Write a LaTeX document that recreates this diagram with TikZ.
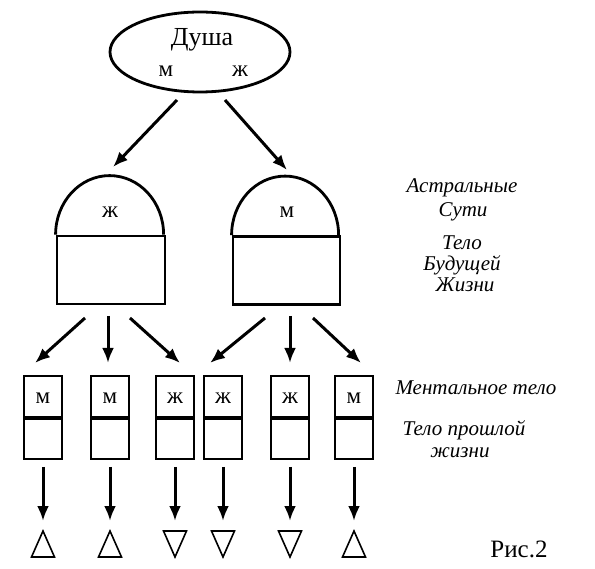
\documentclass[tikz,border=0pt]{standalone}
\usepackage{fontspec}
\setmainfont{Liberation Serif}
\usetikzlibrary{arrows.meta,shapes.geometric}
\begin{document}
\begin{tikzpicture}[x=1pt,y=1pt,
  arr/.style={line width=3pt,-{Latex[length=15pt,width=12pt]}},
  thickline/.style={line width=2.8pt},
  boxpart/.style={draw,line width=1.8pt,minimum width=38pt,inner sep=0pt},
  sm/.style={font=\fontsize{23}{25}\selectfont,anchor=base,inner sep=0pt},
  lbl/.style={font=\fontsize{21}{24}\selectfont\itshape,anchor=base,inner sep=0pt},
  tri/.style={line width=1.6pt}
]
\useasboundingbox (0,0) rectangle (595,-569);
% soul
\node[draw,thickline,ellipse,minimum width=180pt,minimum height=80pt,inner sep=0pt] (soul) at (200,-52) {};
\node[font=\fontsize{26}{28}\selectfont,anchor=base,inner sep=0pt] (dusha) at (202,-46) {Душа};
\node[sm] (sm1) at (166,-77) {м};
\node[sm] (sz1) at (240,-77) {ж};
\coordinate (s1) at (177,-100); \coordinate (e1) at (113,-167);
\coordinate (s2) at (225,-100); \coordinate (e2) at (287,-170);
\draw[arr] (s1) -- (e1);
\draw[arr] (s2) -- (e2);
% domes
\node[draw,thickline,minimum width=108pt,minimum height=68pt,inner sep=0pt] (dl) at (111,-270) {};
\node[draw,thickline,minimum width=107pt,minimum height=68pt,inner sep=0pt] (dr) at (286.5,-270.5) {};
\draw[thickline] (dl.north west) arc[start angle=180,end angle=0,x radius=54pt,y radius=59pt];
\draw[thickline] (dr.north west) arc[start angle=180,end angle=0,x radius=53.5pt,y radius=59pt];
\node[sm] (dlz) at (110,-218) {ж};
\node[sm] (drm) at (287,-218) {м};
% labels right
\node[lbl] (astral) at (462,-193) {Астральные};
\node[lbl] (suti) at (463,-217) {Сути};
\node[lbl] (telo) at (462,-250) {Тело};
\node[lbl] (bud) at (462,-271) {Будущей};
\node[lbl] (zhizni) at (465,-292) {Жизни};
\node[lbl] (mental) at (476,-395) {Ментальное тело};
\node[lbl] (proshl) at (464,-436) {Тело прошлой};
\node[lbl] (zh2) at (460,-457) {жизни};
\node[font=\fontsize{25}{28}\selectfont,anchor=base,inner sep=0pt] (ris) at (519,-557) {Рис.2};
% arrows from domes
\coordinate (a1s) at (85,-318);  \coordinate (a1e) at (35,-363);
\coordinate (a2s) at (108,-316); \coordinate (a2e) at (108,-363);
\coordinate (a3s) at (130,-318); \coordinate (a3e) at (180,-363);
\coordinate (a4s) at (265,-318); \coordinate (a4e) at (210,-363);
\coordinate (a5s) at (290,-316); \coordinate (a5e) at (290,-363);
\coordinate (a6s) at (313,-318); \coordinate (a6e) at (361,-363);
\foreach \i in {1,...,6} {\draw[arr] (a\i s) -- (a\i e);}
% small boxes
\foreach \i/\x/\t/\up in {1/43/м/1,2/110/м/1,3/175/ж/0,4/223/ж/0,5/290/ж/0,6/354/м/1} {
  \node[boxpart,minimum height=41pt] (m\i) at (\x,-396.5) {};
  \node[sm] (l\i) at (\x,-404) {\t};
  \node[boxpart,minimum height=40pt,anchor=north] (b\i) at (m\i.south) {};
  \coordinate (d\i s) at (\x,-467);
  \coordinate (d\i e) at (\x,-521);
  \draw[arr] (d\i s) -- (d\i e);
  \coordinate (t\i) at (\x,-544);
  \ifnum\up=1
    \draw[tri] (t\i) ++(-11.5,-13) -- ++(23,0) -- ++(-11.5,26) -- cycle;
  \else
    \draw[tri] (t\i) ++(-11.5,13) -- ++(23,0) -- ++(-11.5,-26) -- cycle;
  \fi
}
\end{tikzpicture}
\end{document}
